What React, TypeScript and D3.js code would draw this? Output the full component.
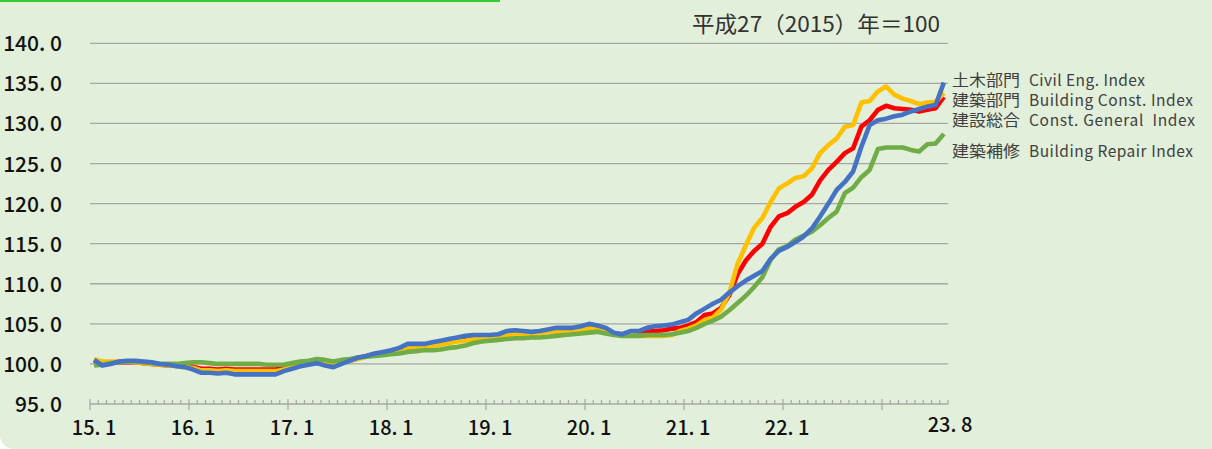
import React from "react";
import * as d3 from "d3";

// 平成27（2015）年＝100, monthly 15.1 .. 23.8
const categories = d3.range(104).map(i => `${15 + Math.floor(i / 12)}.${(i % 12) + 1}`);

const civil = [
  100.5, 99.8, 100.0, 100.3, 100.4, 100.4, 100.3, 100.2, 100.0, 99.9, 99.7, 99.6,
  99.3, 98.9, 98.9, 98.8, 98.9, 98.7, 98.7, 98.7, 98.7, 98.7, 98.7, 99.1,
  99.4, 99.7, 99.9, 100.1, 99.8, 99.6, 100.0, 100.4, 100.8, 101.0, 101.3, 101.5,
  101.7, 102.0, 102.5, 102.5, 102.5, 102.7, 102.9, 103.1, 103.3, 103.5, 103.6, 103.6,
  103.6, 103.7, 104.1, 104.2, 104.1, 104.0, 104.1, 104.3, 104.5, 104.5, 104.5, 104.7,
  105.0, 104.8, 104.5, 103.9, 103.7, 104.1, 104.1, 104.5, 104.7, 104.8, 104.9, 105.2,
  105.5, 106.3, 106.9, 107.5, 108.0, 108.9, 109.7, 110.4, 111.0, 111.6, 113.1, 114.1,
  114.6, 115.2, 115.9, 116.9, 118.4, 120.0, 121.7, 122.7, 124.0, 127.1, 129.8, 130.4,
  130.6, 130.9, 131.1, 131.5, 131.8, 132.1, 132.3, 135.1,
];

const building = [
  100.6, 100.3, 100.3, 100.3, 100.3, 100.2, 100.1, 100.0, 99.9, 99.8, 99.7, 99.6,
  99.5, 99.2, 99.2, 99.1, 99.2, 99.1, 99.1, 99.1, 99.1, 99.1, 99.1, 99.3,
  99.7, 99.9, 100.1, 100.3, 100.1, 99.9, 100.2, 100.4, 100.6, 100.9, 101.1, 101.3,
  101.5, 101.7, 102.0, 102.1, 102.1, 102.3, 102.4, 102.6, 102.8, 102.9, 103.1, 103.2,
  103.3, 103.4, 103.6, 103.7, 103.7, 103.7, 103.8, 104.0, 104.0, 104.1, 104.2, 104.3,
  104.4, 104.4, 104.1, 103.8, 103.6, 103.6, 103.5, 103.5, 103.5, 103.5, 103.6, 104.1,
  104.4, 104.8, 105.5, 105.8, 106.8, 108.9, 112.5, 114.8, 117.0, 118.2, 120.2, 121.9,
  122.5, 123.2, 123.4, 124.4, 126.3, 127.3, 128.1, 129.6, 129.8, 132.6, 132.8, 134.0,
  134.6, 133.6, 133.1, 132.8, 132.4, 132.6, 132.7, 133.8,
];

const general = [
  100.4, 100.1, 100.2, 100.2, 100.2, 100.2, 100.1, 100.0, 99.9, 99.8, 99.8, 99.8,
  99.6, 99.4, 99.4, 99.3, 99.4, 99.3, 99.3, 99.3, 99.3, 99.3, 99.3, 99.5,
  99.8, 100.0, 100.1, 100.3, 100.1, 99.9, 100.2, 100.4, 100.7, 101.0, 101.2, 101.4,
  101.6, 101.8, 102.1, 102.2, 102.2, 102.4, 102.6, 102.8, 103.0, 103.1, 103.3, 103.3,
  103.4, 103.5, 103.8, 103.9, 103.8, 103.8, 103.9, 104.1, 104.2, 104.2, 104.3, 104.4,
  104.6, 104.5, 104.2, 103.8, 103.7, 103.8, 103.8, 104.0, 104.1, 104.2, 104.4, 104.5,
  104.8, 105.2, 106.1, 106.3, 107.0, 108.6, 111.2, 112.9, 114.1, 115.0, 117.1, 118.4,
  118.8, 119.6, 120.2, 121.1, 122.9, 124.2, 125.2, 126.3, 126.9, 129.6, 130.4, 131.7,
  132.2, 131.9, 131.8, 131.7, 131.5, 131.7, 131.9, 133.3,
];

const repair = [
  99.8, 99.9, 100.1, 100.2, 100.3, 100.3, 100.2, 100.1, 100.0, 100.0, 100.0, 100.1,
  100.2, 100.2, 100.1, 100.0, 100.0, 100.0, 100.0, 100.0, 100.0, 99.9, 99.9, 99.9,
  100.1, 100.3, 100.4, 100.6, 100.5, 100.3, 100.5, 100.6, 100.8, 100.9, 101.0, 101.1,
  101.2, 101.3, 101.5, 101.6, 101.7, 101.7, 101.8, 102.0, 102.1, 102.3, 102.6, 102.8,
  102.9, 103.0, 103.1, 103.2, 103.2, 103.3, 103.3, 103.4, 103.5, 103.6, 103.7, 103.8,
  103.9, 104.0, 103.8, 103.6, 103.5, 103.5, 103.5, 103.6, 103.6, 103.6, 103.7, 103.9,
  104.1, 104.5, 105.0, 105.4, 105.9, 106.7, 107.6, 108.5, 109.6, 110.8, 113.0, 114.3,
  114.7, 115.5, 116.0, 116.5, 117.3, 118.2, 119.0, 121.3, 122.0, 123.3, 124.2, 126.8,
  127.0, 127.0, 127.0, 126.7, 126.5, 127.4, 127.5, 128.7,
];

const yTicks = [95, 100, 105, 110, 115, 120, 125, 130, 135, 140];
const xTickLabels = ["15.1", "16.1", "17.1", "18.1", "19.1", "20.1", "21.1", "22.1"];
const lastLabel = "23.8";

// drawn in this order, last on top
const series = [
  { name: "建設総合", values: general, color: "#ff0000" },
  { name: "建築部門", values: building, color: "#ffc000" },
  { name: "建築補修", values: repair, color: "#70ad47" },
  { name: "土木部門", values: civil, color: "#4472c4" },
];

const legend = [
  { jp: "土木部門", en: "Civil Eng. Index", y: 86, w: 116 },
  { jp: "建築部門", en: "Building Const. Index", y: 106, w: 164 },
  { jp: "建設総合", en: "Const. General  Index", y: 126, w: 166 },
  { jp: "建築補修", en: "Building Repair Index", y: 157, w: 164 },
];

const FONT = "'Noto Sans CJK JP', 'Noto Sans', sans-serif";

export default function App() {
  const W = 1212, H = 449;
  const x = d3.scaleBand<string>().domain(categories).range([90, 948]).padding(0);
  const bw = x.bandwidth();
  const y = d3.scaleLinear().domain([95, 140]).range([404, 43.3]);
  const cx = (i: number) => (x(categories[i]) as number) + bw / 2;
  const line = d3.line<number>().x((_, i) => cx(i)).y(d => y(d));
  const fmt = (s: string) => s.replace(".", ". ");

  return (
    <div style={{ position: "fixed", left: 0, top: 0 }}>
      <svg width={W} height={H} style={{ display: "block", background: "#fff" }}>
        <path d={`M0,0 H${W} V${H} H14 A14,14 0 0 1 0,${H - 14} Z`} fill="#e2efda" />
        <line x1={0} x2={500} y1={1} y2={1} stroke="#33cc33" strokeWidth={2} />

        {/* gridlines */}
        {yTicks.filter(v => v > 95).map(v => (
          <line key={v} x1={90} x2={948} y1={y(v)} y2={y(v)} stroke="#a6a6a6" strokeWidth={1.3} />
        ))}
        {/* x axis */}
        <line x1={90} x2={948} y1={y(95)} y2={y(95)} stroke="#a6a6a6" strokeWidth={1.5} />
        {d3.range(105).map(k => {
          const xx = 90 + k * bw;
          const major = k % 12 === 0 && k < 104;
          return (
            <line key={k} x1={xx} x2={xx} y1={major ? 399 : 400} y2={major ? 410 : 404}
              stroke="#a6a6a6" strokeWidth={1.2} />
          );
        })}

        {/* y labels */}
        {yTicks.map(v => (
          <text key={v} x={62} y={y(v) + 8} textAnchor="end" fontFamily={FONT}
            fontSize={21} fontWeight={500} fill="#111">{fmt(v.toFixed(1))}</text>
        ))}
        {/* x labels */}
        {xTickLabels.map(l => (
          <text key={l} x={cx(categories.indexOf(l))} y={435} textAnchor="middle"
            fontFamily={FONT} fontSize={20} fontWeight={500} fill="#111">{fmt(l)}</text>
        ))}
        <text x={950} y={432} textAnchor="middle" fontFamily={FONT} fontSize={20}
          fontWeight={500} fill="#111">{fmt(lastLabel)}</text>

        {/* lines */}
        {series.map(s => (
          <path key={s.name} d={line(s.values) || ""} fill="none" stroke={s.color}
            strokeWidth={4.6} strokeLinejoin="round" strokeLinecap="butt" />
        ))}

        {/* title */}
        <text x={692} y={32} textLength={248} lengthAdjust="spacingAndGlyphs"
          fontFamily={FONT} fontSize={22} fill="#333">
          平成27（2015）年＝100
        </text>

        {/* legend labels */}
        {legend.map(l => (
          <g key={l.jp} fontFamily={FONT} fontSize={15.5} fill="#404040">
            <text x={952} y={l.y} textLength={68} lengthAdjust="spacingAndGlyphs">{l.jp}</text>
            <text x={1029} y={l.y} textLength={l.w} lengthAdjust="spacing" style={{ whiteSpace: "pre" }}>{l.en}</text>
          </g>
        ))}
      </svg>
    </div>
  );
}
